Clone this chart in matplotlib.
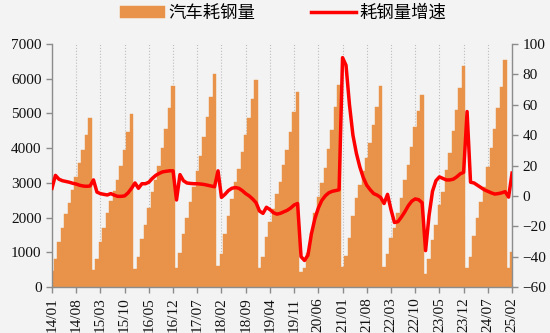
import matplotlib

matplotlib.use("Agg")
import matplotlib.pyplot as plt
import numpy as np

# cumulative steel use by vehicles, monthly 2014/01 - 2025/02 (one row per year)
steel_use = [
    470, 806, 1286, 1709, 2102, 2429, 2794, 3158, 3581, 3946, 4378, 4867,
    490, 806, 1306, 1709, 2122, 2486, 2774, 3082, 3500, 3950, 4470, 4980,
    530, 854, 1373, 1786, 2266, 2746, 3082, 3490, 4010, 4550, 5150, 5790,
    540, 970, 1530, 2000, 2450, 2890, 3330, 3770, 4330, 4890, 5480, 6130,
    605, 950, 1530, 2060, 2540, 3030, 3400, 3900, 4380, 4880, 5410, 5950,
    540, 870, 1430, 1880, 2240, 2680, 3030, 3510, 3950, 4470, 5050, 5610,
    440, 540, 970, 1550, 2120, 2600, 2990, 3430, 3980, 4520, 5190, 5820,
    590, 880, 1400, 2045, 2550, 2940, 3330, 3710, 4140, 4670, 5195, 5790,
    570, 950, 1400, 1690, 2120, 2550, 3080, 3515, 4040, 4600, 5060, 5530,
    390, 810, 1350, 1790, 2360, 2750, 3370, 3860, 4480, 5090, 5720, 6370,
    538, 874, 1470, 1980, 2460, 2890, 3470, 3990, 4540, 5150, 5770, 6540,
    540, 1020,
]

# year-on-year growth of cumulative steel use, %
steel_growth = [
    5, 13.5, 11, 10, 9.5, 9, 8.3, 7.8, 7, 6.5, 6.3, 6.5,
    10.5, 2.5, 1.5, 1, 0.6, 1.5, 0.5, -0.3, -0.3, 0, 2, 5,
    8.5, 5, 8, 8, 9, 11.5, 13.5, 14.8, 15.8, 16.2, 16.5, 16.5,
    -2.7, 14, 10, 8.5, 8.2, 8, 8, 7.8, 7.5, 7, 6.5, 6,
    16.5, -1, 1, 3.5, 5, 5.5, 5, 3.5, 1.5, 0, -2, -4.5,
    -10, -11.5, -7.5, -9, -11, -12, -11.5, -10.5, -9.5, -8, -6, -5,
    -40, -42.5, -39, -25, -15, -8, -3, 0, 2, 3, 3.5, 4,
    91, 86, 60, 40, 28, 19, 12, 7, 4, 1.5, 0.5, -1,
    -5, 1, -9, -17.5, -17, -14, -10.5, -6.5, -3.5, -2, -2.5, -4.5,
    -36, -13, 3, 10, 12.5, 11.5, 10.5, 10.5, 11, 12.5, 14.5, 15.5,
    55.5, 9, 8.5, 7, 5.5, 4, 3, 2, 1.2, 1.5, 2, 2.8,
    -0.8, 15,
]

tick_labels = [
    "14/01", "14/08", "15/03", "15/10", "16/05", "16/12", "17/07",
    "18/02", "18/09", "19/04", "19/11", "20/06", "21/01", "21/08",
    "22/03", "22/10", "23/05", "23/12", "24/07", "25/02",
]

BG = "#f3f3f3"
BAR = "#e9934a"
LINE = "#ff0000"
AXIS = "#8c8c8c"
SERIF = "Liberation Serif"
CJK = ["Noto Sans CJK SC", "DejaVu Sans"]

x = np.arange(len(steel_use))
tick_pos = x[::7]

fig = plt.figure(figsize=(5.5, 3.33), dpi=100, facecolor=BG)
ax = fig.add_axes([0.0945, 0.138, 0.8365, 0.73])
ax.set_facecolor(BG)
bars = ax.bar(x, steel_use, width=1.0, color=BAR, edgecolor=BAR,
              linewidth=0.3, label="汽车耗钢量", zorder=2)
ax.set_xlim(0, len(x) - 1)
ax.set_ylim(0, 7000)
ax.set_yticks(range(0, 7001, 1000))
ax.set_xticks(tick_pos)
ax.set_xticklabels(tick_labels, rotation=90)
ax.grid(axis="x", color="#bdbdbd", linestyle=":", linewidth=0.8, zorder=0)
ax.set_axisbelow(True)

ax2 = ax.twinx()
line, = ax2.plot(x, steel_growth, color=LINE, linewidth=2.5,
                 solid_joinstyle="round", label="耗钢量增速", zorder=3)
ax2.set_ylim(-60, 100)
ax2.set_yticks(range(-60, 101, 20))

for a in (ax, ax2):
    a.spines["top"].set_visible(False)
    for side in ("left", "right", "bottom"):
        a.spines[side].set_color(AXIS)
        a.spines[side].set_linewidth(1.0)
    a.tick_params(colors=AXIS, length=4, width=1.0, labelcolor="#111111")
    for lbl in a.get_xticklabels() + a.get_yticklabels():
        lbl.set_fontfamily(SERIF)
        lbl.set_fontsize(11)
ax.spines["right"].set_visible(False)
ax2.spines["left"].set_visible(False)
ax2.spines["bottom"].set_visible(False)

fig.legend(handles=[bars, line], loc="center", bbox_to_anchor=(0.515, 0.961),
           ncol=2, frameon=False, prop={"family": CJK, "size": 12.5},
           handlelength=2.6, handletextpad=0.2, columnspacing=3.2)

fig.savefig("out.png", dpi=100, facecolor=BG)
